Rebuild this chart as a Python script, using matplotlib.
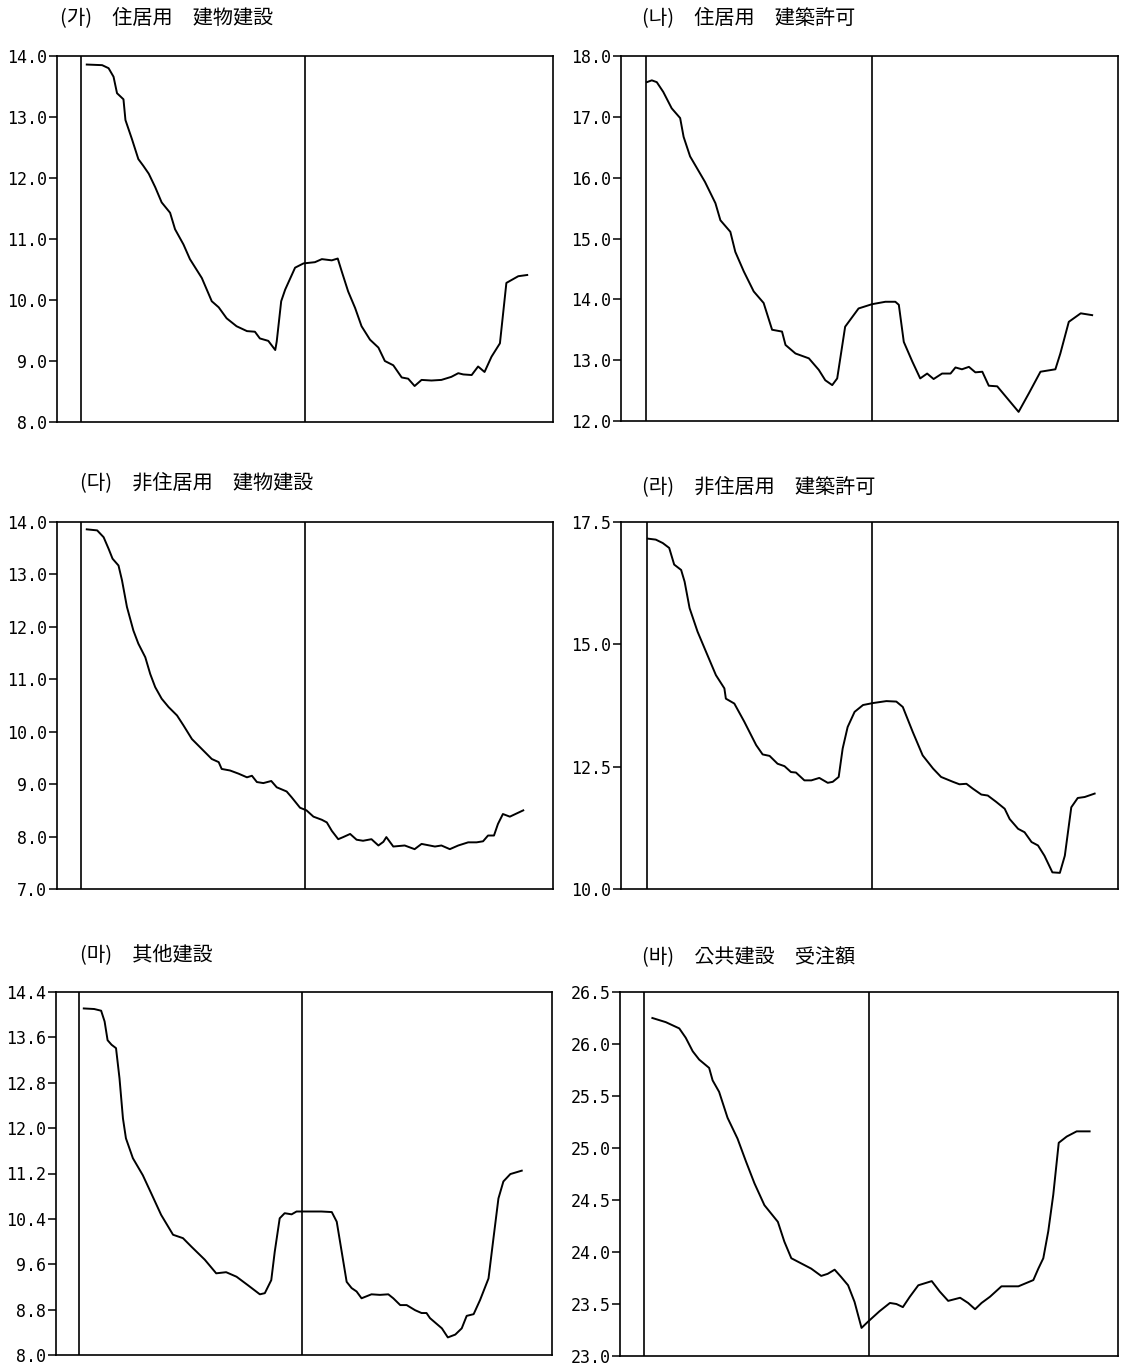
#!/usr/bin/env python3

import matplotlib
matplotlib.use("Agg")
import matplotlib.pyplot as plt

plt.rcParams["font.family"] = ["DejaVu Sans"]

# time position on a 0-100 scale across each panel
x_a = [6.0, 9.1, 10.4, 11.4, 12.1, 13.4, 13.8, 15.1, 16.4, 17.4, 18.5, 19.8, 21.1, 22.8, 23.8,
       25.5, 26.8, 29.2, 31.2, 32.6, 34.2, 36.2, 38.3, 39.9, 40.9, 42.6, 44.0, 44.3, 45.2, 46.0,
       48.0, 49.7, 52.0, 53.4, 55.4, 56.6, 57.4, 58.7, 60.1, 61.4, 63.1, 64.8, 66.1, 67.8, 69.5,
       70.8, 72.1, 73.5, 75.5, 77.5, 79.5, 80.9, 81.9, 83.6, 84.9, 86.2, 87.6, 89.3, 90.6, 93.0, 94.8]
y_a = [13.86, 13.85, 13.80, 13.66, 13.39, 13.29, 12.95, 12.64, 12.31, 12.20, 12.07, 11.85, 11.60,
       11.43, 11.16, 10.91, 10.67, 10.36, 9.98, 9.88, 9.70, 9.57, 9.49, 9.48, 9.37, 9.33, 9.18,
       9.32, 9.98, 10.17, 10.53, 10.60, 10.62, 10.67, 10.65, 10.68, 10.47, 10.14, 9.87, 9.57,
       9.35, 9.22, 9.00, 8.93, 8.73, 8.71, 8.59, 8.69, 8.68, 8.69, 8.74, 8.80, 8.78, 8.77, 8.91,
       8.82, 9.07, 9.29, 10.28, 10.39, 10.41]

x_b = [5.2, 6.2, 7.2, 8.5, 10.2, 11.9, 12.6, 13.9, 14.9, 16.9, 19.0, 20.0, 22.0, 23.0, 24.7,
       26.7, 28.7, 30.4, 32.4, 33.1, 35.1, 37.8, 39.8, 41.1, 42.5, 43.5, 45.1, 47.8, 50.5, 53.2,
       55.2, 55.9, 56.9, 58.6, 60.2, 61.6, 62.9, 64.6, 66.3, 67.3, 68.6, 70.0, 71.3, 72.7, 74.0,
       75.7, 80.0, 82.1, 84.4, 87.4, 88.4, 90.1, 92.5, 94.8]
y_b = [17.57, 17.60, 17.57, 17.41, 17.14, 16.98, 16.67, 16.35, 16.21, 15.93, 15.58, 15.30, 15.11,
       14.78, 14.46, 14.13, 13.94, 13.50, 13.47, 13.25, 13.11, 13.03, 12.84, 12.67, 12.59, 12.70,
       13.55, 13.85, 13.92, 13.96, 13.96, 13.91, 13.30, 12.98, 12.70, 12.78, 12.69, 12.78, 12.78,
       12.88, 12.85, 12.89, 12.80, 12.81, 12.58, 12.57, 12.15, 12.46, 12.81, 12.85, 13.11, 13.63,
       13.77, 13.74]

x_c = [6.0, 8.1, 9.4, 10.4, 11.2, 12.4, 13.1, 14.1, 15.4, 16.4, 17.8, 18.8, 19.8, 21.1, 22.5,
       24.2, 25.5, 27.2, 29.2, 31.2, 32.6, 33.2, 34.9, 36.6, 38.3, 39.3, 40.3, 41.6, 43.2, 44.3,
       46.3, 47.3, 49.0, 50.3, 51.7, 53.4, 54.4, 55.4, 56.7, 57.7, 59.1, 60.4, 61.7, 63.4, 64.8,
       65.8, 66.4, 67.8, 70.1, 72.1, 73.5, 76.2, 77.5, 79.2, 80.9, 82.9, 84.6, 85.9, 86.9, 88.1,
       88.9, 89.9, 91.3, 94.0]
y_c = [13.86, 13.84, 13.71, 13.49, 13.30, 13.17, 12.89, 12.38, 11.93, 11.68, 11.42, 11.10, 10.85,
       10.63, 10.47, 10.31, 10.12, 9.86, 9.67, 9.48, 9.42, 9.29, 9.26, 9.20, 9.13, 9.16, 9.04,
       9.02, 9.06, 8.94, 8.86, 8.75, 8.55, 8.50, 8.38, 8.32, 8.27, 8.11, 7.95, 7.99, 8.05, 7.94,
       7.92, 7.95, 7.83, 7.90, 7.99, 7.81, 7.83, 7.76, 7.86, 7.81, 7.83, 7.76, 7.83, 7.89, 7.89,
       7.91, 8.02, 8.02, 8.24, 8.43, 8.38, 8.50]

x_d = [5.4, 7.0, 8.4, 9.7, 10.7, 12.1, 12.8, 13.8, 15.4, 17.1, 19.1, 20.8, 21.1, 22.8, 24.8,
       27.2, 28.5, 29.9, 31.5, 32.9, 34.2, 35.2, 36.9, 38.3, 39.9, 41.6, 42.6, 43.8, 44.6, 45.6,
       47.0, 48.7, 50.7, 53.4, 55.4, 56.7, 58.7, 60.7, 62.8, 64.4, 66.8, 68.1, 69.5, 70.8, 72.5,
       73.8, 75.5, 77.2, 78.2, 79.9, 81.2, 82.6, 83.9, 85.2, 86.8, 88.3, 89.3, 90.6, 91.9, 93.3, 95.3]
y_d = [17.16, 17.14, 17.07, 16.97, 16.63, 16.52, 16.28, 15.74, 15.26, 14.85, 14.37, 14.10, 13.89,
       13.79, 13.42, 12.94, 12.75, 12.72, 12.56, 12.51, 12.39, 12.38, 12.22, 12.22, 12.27, 12.17,
       12.19, 12.29, 12.87, 13.31, 13.62, 13.76, 13.80, 13.84, 13.83, 13.72, 13.21, 12.73, 12.46,
       12.29, 12.19, 12.14, 12.15, 12.05, 11.93, 11.91, 11.78, 11.64, 11.43, 11.23, 11.16, 10.96,
       10.89, 10.68, 10.34, 10.33, 10.68, 11.67, 11.86, 11.88, 11.95]

x_e = [5.6, 7.7, 9.1, 9.8, 10.4, 11.2, 12.1, 12.8, 13.5, 14.1, 15.5, 17.5, 19.2, 21.2, 23.6,
       25.6, 27.3, 30.0, 32.3, 34.3, 36.4, 38.7, 41.1, 42.1, 43.4, 44.1, 45.1, 46.1, 47.5, 48.5,
       50.8, 53.5, 55.6, 56.6, 57.6, 58.6, 59.6, 60.6, 61.6, 63.6, 65.3, 67.0, 68.0, 69.4, 70.7,
       72.4, 73.7, 74.7, 75.4, 77.8, 79.0, 80.5, 81.8, 82.8, 84.2, 85.5, 87.2, 88.2, 89.2, 90.2,
       91.6, 93.9]
y_e = [14.11, 14.10, 14.07, 13.88, 13.55, 13.47, 13.41, 12.88, 12.17, 11.82, 11.47, 11.17, 10.85,
       10.47, 10.12, 10.06, 9.91, 9.68, 9.44, 9.46, 9.38, 9.23, 9.07, 9.09, 9.32, 9.82, 10.41,
       10.50, 10.48, 10.53, 10.53, 10.53, 10.52, 10.35, 9.82, 9.29, 9.18, 9.12, 9.00, 9.07, 9.06,
       9.07, 9.00, 8.88, 8.88, 8.79, 8.74, 8.74, 8.65, 8.47, 8.31, 8.36, 8.47, 8.69, 8.72, 8.97,
       9.35, 10.06, 10.76, 11.06, 11.19, 11.25]

x_f = [6.5, 9.2, 11.9, 13.2, 14.6, 15.9, 17.9, 18.6, 19.9, 21.6, 23.6, 25.3, 27.0, 29.0, 31.7,
       33.0, 34.4, 36.4, 38.4, 40.4, 41.7, 43.1, 44.4, 45.8, 47.1, 48.5, 49.8, 52.1, 54.2, 55.5,
       56.8, 58.2, 59.9, 62.6, 64.2, 65.9, 68.3, 69.9, 71.3, 72.6, 74.3, 76.6, 78.0, 80.0, 83.0,
       84.0, 85.0, 86.0, 87.0, 88.1, 89.7, 91.7, 94.3]
y_f = [26.25, 26.21, 26.15, 26.06, 25.93, 25.85, 25.77, 25.65, 25.54, 25.29, 25.09, 24.87, 24.66,
       24.45, 24.29, 24.10, 23.94, 23.89, 23.84, 23.77, 23.79, 23.83, 23.76, 23.68, 23.52, 23.27,
       23.33, 23.43, 23.51, 23.50, 23.47, 23.57, 23.68, 23.72, 23.62, 23.53, 23.56, 23.51, 23.45,
       23.51, 23.57, 23.67, 23.67, 23.67, 23.73, 23.84, 23.94, 24.20, 24.55, 25.05, 25.11, 25.16,
       25.16]

titles = ["(가)\u3000住居用\u3000建物建設", "(나)\u3000住居用\u3000建築許可",
          "(다)\u3000非住居用\u3000建物建設", "(라)\u3000非住居用\u3000建築許可",
          "(마)\u3000其他建設", "(바)\u3000公共建設\u3000受注額"]

ticks_a = [8.0, 9.0, 10.0, 11.0, 12.0, 13.0, 14.0]
ticks_b = [12.0, 13.0, 14.0, 15.0, 16.0, 17.0, 18.0]
ticks_c = [7.0, 8.0, 9.0, 10.0, 11.0, 12.0, 13.0, 14.0]
ticks_d = [10.0, 12.5, 15.0, 17.5]
ticks_e = [8.0, 8.8, 9.6, 10.4, 11.2, 12.0, 12.8, 13.6, 14.4]
ticks_f = [23.0, 23.5, 24.0, 24.5, 25.0, 25.5, 26.0, 26.5]

# break lines (same 0-100 scale)
breaks = [(4.9, 49.9), (5.0, 50.6), (4.9, 49.9), (5.2, 50.5), (4.6, 49.6), (4.8, 50.1)]

W, H = 1126, 1365
# axes boxes in pixels: left, top, right, bottom
boxes = [(57, 56, 553, 422), (621, 56, 1118, 421),
         (57, 522, 553, 889), (621, 522, 1118, 889),
         (56, 992, 552, 1355), (620, 992, 1118, 1356)]
title_pos = [(60, 18), (642, 18), (80, 483), (642, 487), (80, 955), (642, 958)]

panels = [(x_a, y_a, ticks_a), (x_b, y_b, ticks_b), (x_c, y_c, ticks_c),
          (x_d, y_d, ticks_d), (x_e, y_e, ticks_e), (x_f, y_f, ticks_f)]

fig = plt.figure(figsize=(W / 100, H / 100), dpi=100)

for i, (xs, ys, ticks) in enumerate(panels):
    l, t, r, b = boxes[i]
    ax = fig.add_axes([l / W, 1 - b / H, (r - l) / W, (b - t) / H])
    ax.plot(xs, ys, color="black", linewidth=1.4)
    for bx in breaks[i]:
        ax.axvline(bx, color="black", linewidth=1.2)
    ax.set_xlim(0, 100)
    ax.set_ylim(ticks[0], ticks[-1])
    ax.set_yticks(ticks)
    ax.set_yticklabels(["%.1f" % v for v in ticks], family="DejaVu Sans Mono")
    ax.set_xticks([])
    ax.tick_params(axis="y", direction="out", length=6, width=1.1, labelsize=12, pad=1)
    for s in ax.spines.values():
        s.set_linewidth(1.2)
    tx, ty = title_pos[i]
    fig.text(tx / W, 1 - ty / H, titles[i], fontsize=14.5, va="center", ha="left",
             family=["Noto Sans CJK KR", "DejaVu Sans"])

fig.savefig("out.png", dpi=100)
